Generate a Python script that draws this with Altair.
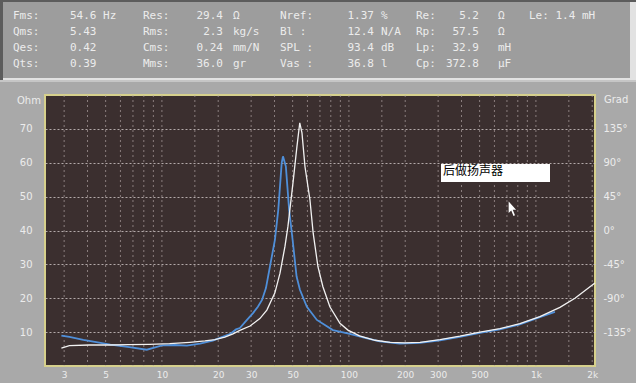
import altair as alt
import pandas as pd

# ---------------- data ----------------
# measured impedance (blue)
meas_freq = [2.9, 3.2, 3.8, 4.7, 5.3, 6.7, 8.3, 9.2, 10.0, 11.7, 13.6, 16.0, 18.7, 20.9,
             23.1, 24.9, 26.1, 28.5, 30.7, 32.6, 34.3, 36.0, 37.8, 40.2, 41.9, 43.7, 44.4,
             46.0, 47.9, 50.0, 52.5, 54.7, 59.6, 67.4, 82.1, 101, 122, 146, 187, 240,
             307, 392, 502, 642, 821, 1050, 1264]
meas_ohm = [9.0, 8.6, 7.7, 6.8, 6.3, 5.6, 4.8, 5.5, 6.1, 6.2, 6.0, 6.6, 7.5, 8.5,
            9.4, 10.8, 11.2, 13.6, 15.6, 17.5, 19.5, 23.0, 29.3, 37.2, 46.1, 59.9, 61.9,
            58.9, 46.1, 37.2, 26.4, 22.5, 17.5, 13.6, 10.6, 9.5, 8.3, 7.3, 6.6, 6.8,
            7.6, 8.6, 9.8, 10.8, 12.3, 14.4, 16.0]
# fitted impedance (white)
fit_freq = [2.9, 3.2, 4.1, 5.3, 6.7, 8.6, 11.0, 14.1, 17.0, 19.2, 21.7, 24.0, 26.1,
            29.6, 33.4, 36.4, 40.2, 42.8, 45.5, 47.2, 50.2, 52.7, 54.6, 56.1, 58.2,
            61.9, 64.4, 68.3, 72.6, 79.1, 89.5, 98.8, 114, 138, 166, 199, 240, 307,
            392, 502, 642, 821, 1050, 1344, 1617, 2068]
fit_ohm = [5.3, 6.0, 6.2, 6.2, 6.3, 6.4, 6.6, 7.0, 7.4, 7.8, 8.5, 9.5, 10.5,
           11.8, 14.0, 16.5, 21.6, 27.4, 35.3, 41.2, 54.0, 64.7, 71.8, 68.8, 58.9,
           49.0, 39.2, 29.3, 23.4, 17.5, 12.6, 10.6, 8.9, 7.6, 7.0, 6.8, 7.0, 7.8,
           8.8, 10.0, 11.0, 12.5, 14.6, 17.3, 20.0, 24.5]

x_label_values = [3, 5, 10, 20, 30, 50, 100, 200, 300, 500, 1000, 2000]
x_grid_values = [3, 4, 5, 6, 7, 8, 9, 10, 15, 20, 30, 40, 50, 60, 70, 80, 90,
                 100, 150, 200, 300, 400, 500, 600, 700, 800, 900, 1000, 1500, 2000]
ohm_ticks = [10, 20, 30, 40, 50, 60, 70]
phase_ticks = [-135, -90, -45, 0, 45, 90, 135]

col1_labels = ["Fms:", "Qms:", "Qes:", "Qts:"]
col1_values = ["54.6 Hz", "5.43", "0.42", "0.39"]
col2_labels = ["Res:", "Rms:", "Cms:", "Mms:"]
col2_values = ["29.4", "2.3", "0.24", "36.0"]
col2_units = ["Ω", "kg/s", "mm/N", "gr"]
col3_labels = ["Nref:", "Bl  :", "SPL :", "Vas :"]
col3_values = ["1.37", "12.4", "93.4", "36.8"]
col3_units = ["%", "N/A", "dB", "l"]
col4_labels = ["Re:", "Rp:", "Lp:", "Cp:"]
col4_values = ["5.2", "57.5", "32.9", "372.8"]
col4_units = ["Ω", "Ω", "mH", "µF"]
col5_text = ["Le: 1.4 mH"]
annotation_text = "后做扬声器"
left_title = "Ohm"
right_title = "Grad"

# ---------------- layout ----------------
W, H = 550, 271
OX, OY = 45, 95
LABEL = "#ececec"

one = pd.DataFrame({"k": [0]})

xscale = alt.Scale(type="log", domain=[2.37, 2070], nice=False)
xenc = alt.X("freq:Q", scale=xscale,
             axis=alt.Axis(values=x_label_values,
                           labelExpr="datum.value >= 1000 ? (datum.value / 1000) + 'k' : datum.value + ''",
                           grid=False, ticks=False, domain=False, labelPadding=4,
                           labelFlush=False, labelOverlap=False, labelColor=LABEL,
                           labelFontSize=9, labelFont="DejaVu Sans", title=None))
yenc = alt.Y("ohm:Q", scale=alt.Scale(domain=[0, 80], nice=False, zero=False),
             axis=alt.Axis(values=ohm_ticks, grid=True, gridColor="#d2c9c9",
                           gridDash=[2, 2], gridOpacity=0.8, ticks=False, domain=False,
                           labelPadding=13, labelColor=LABEL, labelFontSize=10,
                           labelFont="DejaVu Sans", title=None))

grid = alt.Chart(pd.DataFrame({"freq": x_grid_values})).mark_rule(
    color="#b4a8a8", strokeDash=[2, 3], strokeWidth=1, opacity=0.65
).encode(x=xenc, y=alt.value(0), y2=alt.value(H))

blue = alt.Chart(pd.DataFrame({"freq": meas_freq, "ohm": meas_ohm})).mark_line(
    color="#4f8fd9", strokeWidth=1.8).encode(x=xenc, y=yenc)
white = alt.Chart(pd.DataFrame({"freq": fit_freq, "ohm": fit_ohm})).mark_line(
    color="#f2f2f2", strokeWidth=1.3).encode(x=xenc, y=yenc)


def rect(x1, y1, x2, y2, color):
    return alt.Chart(one).mark_rect(color=color).encode(
        x=alt.value(x1 - OX), x2=alt.value(x2 - OX),
        y=alt.value(y1 - OY), y2=alt.value(y2 - OY))


def block(lines, x, align):
    df = pd.DataFrame({"t": ["\n".join(lines)]})
    return alt.Chart(df).mark_text(
        lineBreak="\n", lineHeight=16.2, align=align, baseline="alphabetic",
        font="DejaVu Sans Mono", fontSize=11, color=LABEL
    ).encode(text="t:N", x=alt.value(x - OX), y=alt.value(18.5 - OY))


header = [
    rect(0, 0, 636, 80, "#5c5c5c"),
    rect(3, 2, 636, 80, "#e2e2e2"),
    rect(3, 2, 630, 78, "#9d9d9d"),
    rect(0, 80, 636, 82, "#c6c6c6"),
    block(col1_labels, 13, "left"),
    block(col1_values, 70, "left"),
    block(col2_labels, 143, "left"),
    block(col2_values, 223, "right"),
    block(col2_units, 233, "left"),
    block(col3_labels, 280, "left"),
    block(col3_values, 374, "right"),
    block(col3_units, 381, "left"),
    block(col4_labels, 416, "left"),
    block(col4_values, 479, "right"),
    block(col4_units, 498, "left"),
    block(col5_text, 529, "left"),
]

titles = [
    alt.Chart(pd.DataFrame({"t": [left_title]})).mark_text(
        align="left", baseline="middle", fontSize=10, font="DejaVu Sans", color=LABEL
    ).encode(text="t:N", x=alt.value(17 - OX), y=alt.value(101 - OY)),
    alt.Chart(pd.DataFrame({"t": [right_title]})).mark_text(
        align="left", baseline="middle", fontSize=10, font="DejaVu Sans", color=LABEL
    ).encode(text="t:N", x=alt.value(604 - OX), y=alt.value(100 - OY)),
]

annot = [
    rect(441, 164, 550, 182, "#ffffff"),
    alt.Chart(pd.DataFrame({"t": [annotation_text]})).mark_text(
        align="left", baseline="middle", fontSize=12, font="Noto Sans CJK SC", color="#000000"
    ).encode(text="t:N", x=alt.value(443 - OX), y=alt.value(171 - OY)),
    alt.Chart(one).mark_point(
        shape="M-0.45,-1 L-0.45,0.55 L-0.1,0.2 L0.2,0.95 L0.4,0.85 L0.1,0.1 L0.55,0.1 Z",
        filled=True, color="#ffffff", size=220, opacity=1
    ).encode(x=alt.value(512 - OX), y=alt.value(209 - OY)),
]

inner = alt.layer(*header, grid, blue, white, *titles, *annot)

phase = alt.Chart(pd.DataFrame({"deg": phase_ticks})).mark_point(opacity=0).encode(
    x=alt.value(0),
    y=alt.Y("deg:Q", scale=alt.Scale(domain=[-180, 180], nice=False, zero=False),
            axis=alt.Axis(orient="right", values=phase_ticks,
                          labelExpr="datum.value + '°'", ticks=False, domain=False,
                          grid=False, labelPadding=8, labelColor=LABEL, labelFontSize=10,
                          labelFont="DejaVu Sans", title=None)))

chart = alt.layer(inner, phase).resolve_scale(y="independent").properties(
    width=W, height=H,
    padding={"left": OX, "top": OY, "right": 636 - OX - W, "bottom": 383 - OY - H},
    autosize=alt.AutoSizeParams(type="none"),
    background="#a9a9a9",
).configure_view(fill="#3b2f2f", stroke="#d6d08c", strokeWidth=2)

chart.save("out.html", embed_options={"renderer": "svg", "actions": False})
